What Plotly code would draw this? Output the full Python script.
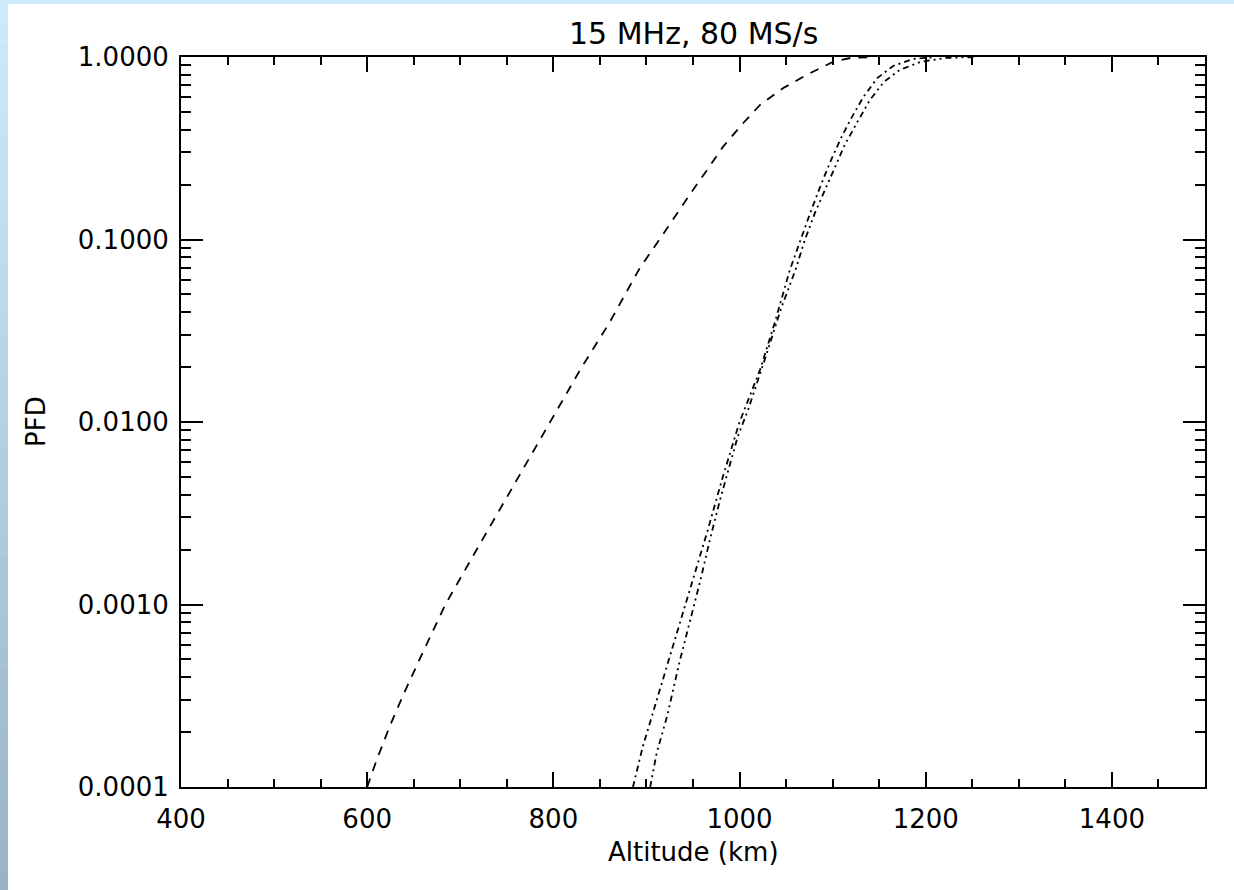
import plotly.graph_objects as go

# values (altitude km, PFD)
alt_dash = [600, 610, 625, 640, 660, 684, 710, 740, 770, 796, 830, 860, 893, 914,
            933, 950, 965, 982, 1004, 1022, 1047, 1072, 1100, 1120, 1145]
pfd_dash = [1.0e-4, 1.4e-4, 2.2e-4, 3.3e-4, 5.5e-4, 1.0e-3, 1.71e-3, 3.16e-3, 5.86e-3,
            1.0e-2, 1.98e-2, 3.48e-2, 7.0e-2, 0.100, 0.140, 0.187, 0.240, 0.321, 0.435,
            0.546, 0.676, 0.797, 0.939, 0.990, 1.0]

alt_dd1 = [885.5, 896, 912, 933, 952, 965, 982, 1000, 1022, 1038, 1054, 1065,
           1076, 1086, 1097, 1108, 1119, 1133, 1148, 1165, 1186, 1210]
pfd_dd1 = [1.0e-4, 1.66e-4, 3.11e-4, 6.98e-4, 1.49e-3, 2.47e-3, 5.0e-3, 1.0e-2,
           1.93e-2, 3.53e-2, 6.8e-2, 9.9e-2, 0.140, 0.191, 0.263, 0.351, 0.452, 0.604,
           0.767, 0.893, 0.975, 1.0]

alt_dd2 = [904, 911, 922, 936, 947, 958, 968, 979, 998, 1009, 1027, 1044, 1060, 1070,
           1081, 1092, 1103, 1113, 1126, 1140, 1155, 1172, 1194, 1221, 1253]
pfd_dd2 = [1.0e-4, 1.54e-4, 2.42e-4, 4.96e-4, 8.2e-4, 1.36e-3, 2.25e-3, 3.74e-3, 8.3e-3,
           1.16e-2, 2.19e-2, 4.1e-2, 6.8e-2, 9.9e-2, 0.140, 0.187, 0.250, 0.330, 0.435,
           0.581, 0.730, 0.849, 0.939, 0.988, 1.0]

x_ticks = [400, 600, 800, 1000, 1200, 1400]
y_ticks = [1e-4, 1e-3, 1e-2, 1e-1, 1.0]
y_labels = ["0.0001", "0.0010", "0.0100", "0.1000", "1.0000"]

FONT = "DejaVu Sans"
W, H = 1234, 890
L, R, T, B = 181, 29, 57, 103
pw, ph = W - L - R, H - T - B

fig = go.Figure()
fig.add_trace(go.Scatter(x=alt_dash, y=pfd_dash, mode="lines",
                         line=dict(color="black", width=1.8, dash="9px,8px")))
fig.add_trace(go.Scatter(x=alt_dd1, y=pfd_dd1, mode="lines",
                         line=dict(color="black", width=1.8, dash="6px,4px,2px,4px")))
fig.add_trace(go.Scatter(x=alt_dd2, y=pfd_dd2, mode="lines",
                         line=dict(color="black", width=1.8, dash="6px,4px,2px,4px,2px,4px")))

# blue frame strips (left gradient, top band)
shapes = []
n = 40
c0, c1 = (205, 234, 253), (154, 180, 197)
for i in range(n):
    f = i / (n - 1)
    col = "rgb(%d,%d,%d)" % tuple(round(a + (b - a) * f) for a, b in zip(c0, c1))
    ytop = 1 + T / ph - i * (H / n) / ph
    shapes.append(dict(type="rect", xref="paper", yref="paper", layer="below",
                       x0=-L / pw, x1=(8 - L) / pw, y0=ytop - (H / n) / ph - 0.001, y1=ytop,
                       fillcolor=col, line=dict(width=0)))
shapes.append(dict(type="rect", xref="paper", yref="paper", layer="below",
                   x0=-L / pw, x1=1 + R / pw, y0=1 + (T - 4) / ph, y1=1 + T / ph,
                   fillcolor="rgb(205,234,253)", line=dict(width=0)))

fig.update_layout(
    width=W, height=H,
    margin=dict(l=L, r=R, t=T, b=B),
    paper_bgcolor="white", plot_bgcolor="white",
    showlegend=False,
    font=dict(family=FONT, color="black"),
    shapes=shapes,
    annotations=[
        dict(text="15 MHz, 80 MS/s", xref="paper", yref="paper", x=0.5,
             y=1 + (T - 34) / ph, showarrow=False, font=dict(size=30),
             xanchor="center", yanchor="middle"),
        dict(text="Altitude (km)", xref="paper", yref="paper", x=0.5,
             y=-(852 - (H - B)) / ph, showarrow=False, font=dict(size=26),
             xanchor="center", yanchor="middle"),
        dict(text="PFD", xref="paper", yref="paper", x=-(L - 36) / pw, y=0.5,
             textangle=-90, showarrow=False, font=dict(size=26),
             xanchor="center", yanchor="middle"),
    ],
)

fig.update_xaxes(
    range=[400, 1500], tickvals=x_ticks, ticks="inside", ticklen=15, tickwidth=2,
    tickcolor="black", showline=True, linecolor="black", linewidth=2, mirror="allticks",
    showgrid=False, zeroline=False, tickfont=dict(size=26), ticklabelstandoff=8,
    minor=dict(dtick=50, tick0=400, ticks="inside", ticklen=8, tickwidth=2,
               tickcolor="black", showgrid=False),
)
fig.update_yaxes(
    type="log", range=[-4, 0], tickvals=y_ticks, ticktext=y_labels, ticks="inside",
    ticklen=22, tickwidth=2, tickcolor="black", showline=True, linecolor="black",
    linewidth=2, mirror="allticks", showgrid=False, zeroline=False,
    tickfont=dict(size=26), ticklabelstandoff=5,
    minor=dict(tickvals=[m * 10 ** e for e in range(-4, 0) for m in range(2, 10)],
               ticks="inside", ticklen=10, tickwidth=2, tickcolor="black", showgrid=False),
)

fig.write_html("out.html", config={"displayModeBar": False},
               post_script="document.body.style.margin='0';")
